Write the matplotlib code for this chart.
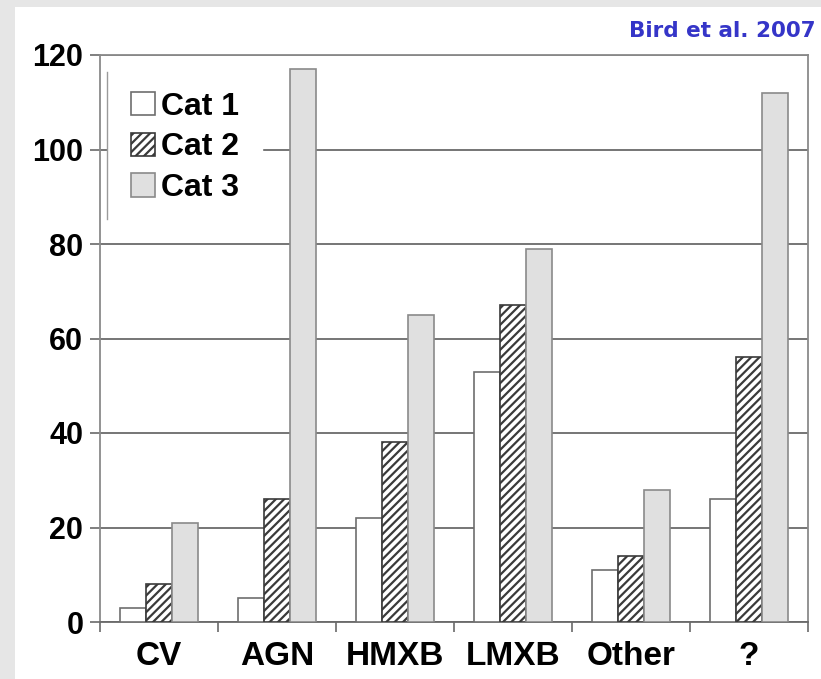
import numpy as np
import matplotlib
matplotlib.use('Agg')
import matplotlib.pyplot as plt
from matplotlib.patches import Rectangle

# Source counts per class
categories = ['CV', 'AGN', 'HMXB', 'LMXB', 'Other', '?']
cat1 = [3, 5, 22, 53, 11, 26]
cat2 = [8, 26, 38, 67, 14, 56]
cat3 = [21, 117, 65, 79, 28, 112]
series_labels = ['Cat 1', 'Cat 2', 'Cat 3']
yticks = [0, 20, 40, 60, 80, 100, 120]

plt.rcParams['font.family'] = ['Liberation Sans', 'DejaVu Sans']
plt.rcParams['hatch.linewidth'] = 1.6

fig = plt.figure(figsize=(8.21, 6.79), dpi=100)
fig.patch.set_facecolor('#e6e6e6')

# white panel (gray strip only on top and left)
fig.patches.append(Rectangle((15 / 821, 0), 1, 1 - 7 / 679, transform=fig.transFigure,
                             facecolor='white', edgecolor='none', zorder=-10))

ax = fig.add_axes([100 / 821, 1 - 622 / 679, 708 / 821, 567 / 679])
ax.set_facecolor('white')

x = np.arange(len(categories))
w = 0.22

ax.bar(x - w, cat1, w, facecolor='white', edgecolor='#6e6e6e', linewidth=1.2,
       label=series_labels[0], zorder=3)
ax.bar(x, cat2, w, facecolor='white', edgecolor='#3a3a3a', hatch='////', linewidth=1.2,
       label=series_labels[1], zorder=3)
ax.bar(x + w, cat3, w, facecolor='#e0e0e0', edgecolor='#8a8a8a', linewidth=1.2,
       label=series_labels[2], zorder=3)

ax.set_xlim(-0.5, len(categories) - 0.5)
ax.set_ylim(0, 120)

# grid lines
ax.set_yticks(yticks)
ax.yaxis.grid(True, color='#6a6a6a', linewidth=1.3, zorder=1)
ax.set_axisbelow(True)

ax.set_xticks(x)
ax.set_xticklabels(categories)
ax.set_xticks(np.arange(-0.5, len(categories)), minor=True)
ax.tick_params(axis='x', which='major', length=0, pad=14, labelsize=24)
ax.tick_params(axis='x', which='minor', length=7, width=1.2, color='#6a6a6a', direction='out')
ax.tick_params(axis='y', length=7, width=1.2, color='#6a6a6a', pad=5, labelsize=22)

for lab in ax.get_xticklabels() + ax.get_yticklabels():
    lab.set_fontweight('bold')

for s in ax.spines.values():
    s.set_color('#8a8a8a')
    s.set_linewidth(1.3)
ax.spines['bottom'].set_color('#6a6a6a')

leg = ax.legend(loc='upper left', bbox_to_anchor=(0.012, 0.975), frameon=True,
                prop={'weight': 'bold', 'size': 23}, handlelength=0.75, handleheight=0.75,
                handletextpad=0.2, labelspacing=0.34, borderpad=0.7, fancybox=False,
                borderaxespad=0)
leg.get_frame().set_edgecolor('white')
leg.get_frame().set_alpha(1)
leg.set_zorder(5)

# thin line on the left side of the legend box
ax.axvline(-0.44, ymin=0.71, ymax=0.97, color='#9a9a9a', linewidth=1.0, zorder=6)

fig.text(0.993, 0.955, 'Bird et al. 2007', color='#3535c8', fontsize=15.5,
         fontweight='bold', ha='right', va='center', family='DejaVu Sans')

fig.savefig('out.png', dpi=100, facecolor=fig.get_facecolor())
